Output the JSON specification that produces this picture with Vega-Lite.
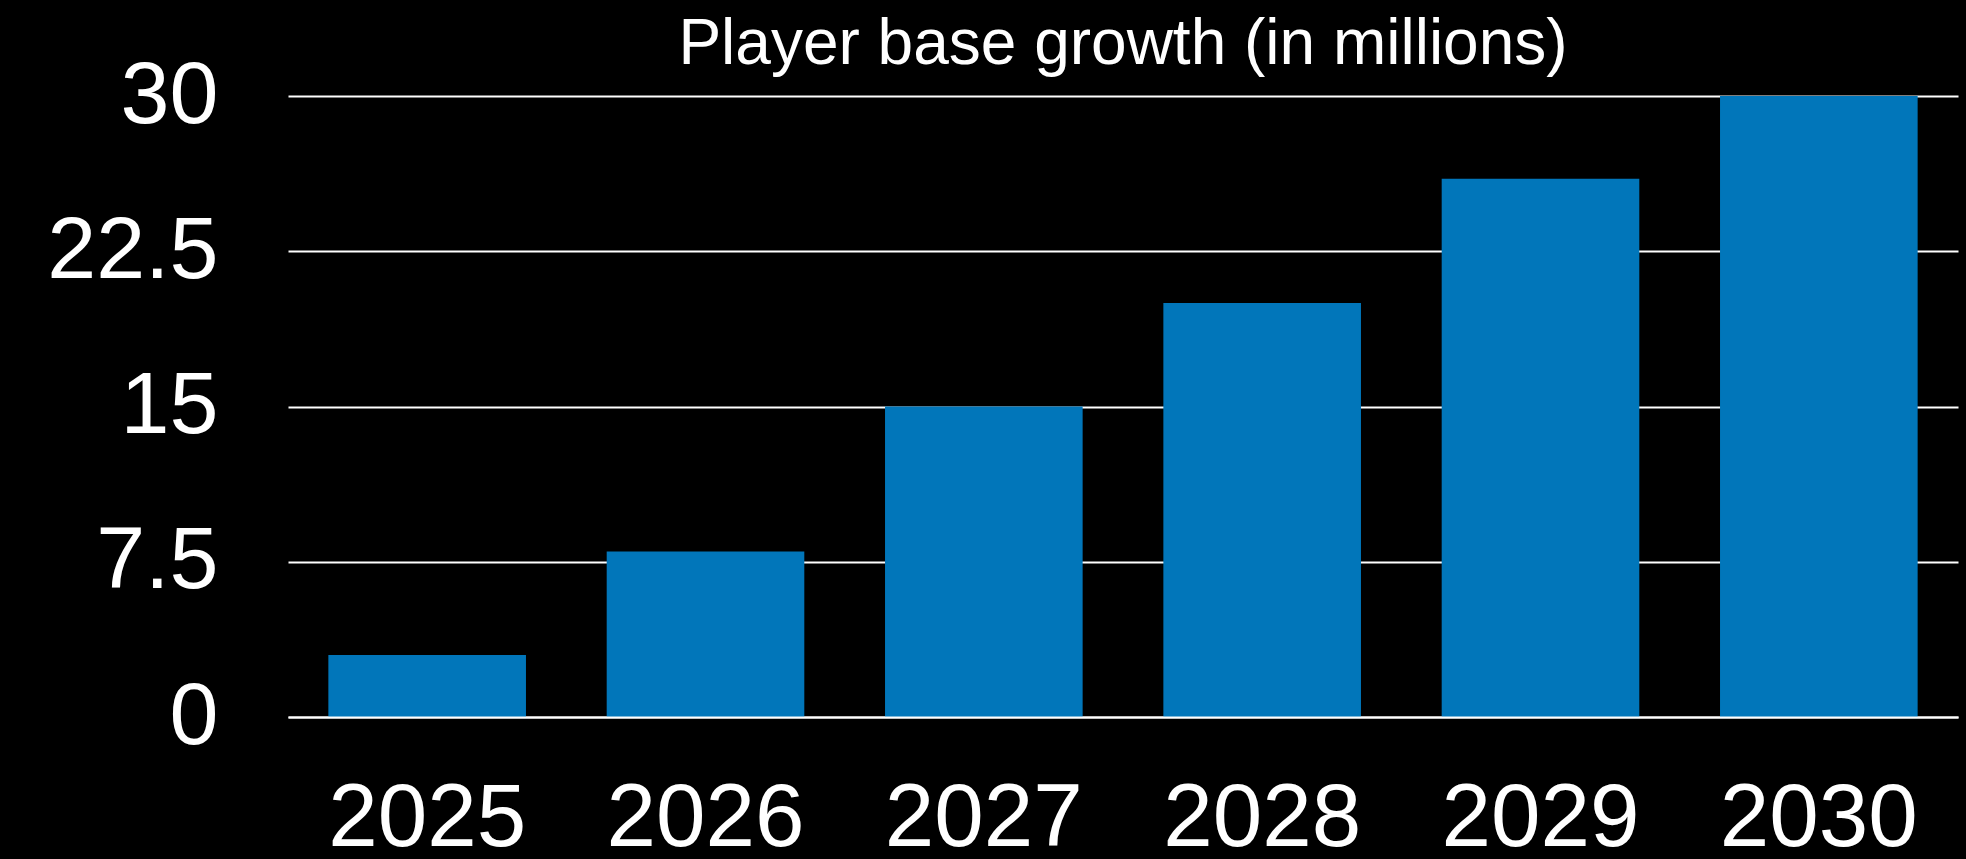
{
  "$schema": "https://vega.github.io/schema/vega-lite/v6.json",
  "autosize": "none",
  "width": 1670,
  "height": 621,
  "padding": {"left": 288, "top": 96, "right": 8, "bottom": 142},
  "background": "#000000",
  "config": {
    "view": {"stroke": null},
    "font": "Liberation Sans"
  },
  "title": {
    "text": "Player base growth (in millions)",
    "font": "Liberation Sans",
    "fontSize": 64,
    "fontWeight": "normal",
    "color": "#ffffff",
    "anchor": "middle",
    "frame": "group",
    "baseline": "alphabetic",
    "offset": -76
  },
  "data": {
    "values": [
      {"year": "2025", "players": 3},
      {"year": "2026", "players": 8},
      {"year": "2027", "players": 15},
      {"year": "2028", "players": 20},
      {"year": "2029", "players": 26},
      {"year": "2030", "players": 30}
    ]
  },
  "mark": {"type": "bar", "color": "#0176BA"},
  "encoding": {
    "x": {
      "field": "year",
      "type": "nominal",
      "sort": null,
      "scale": {"paddingInner": 0.29, "paddingOuter": 0.145},
      "axis": {
        "title": null,
        "labelAngle": 0,
        "labelFont": "Liberation Sans",
        "labelFontSize": 89,
        "labelColor": "#ffffff",
        "labelPadding": 58,
        "labelLimit": 0,
        "labelOverlap": false,
        "ticks": false,
        "domain": true,
        "domainColor": "#ffffff",
        "domainWidth": 2,
        "zindex": 1
      }
    },
    "y": {
      "field": "players",
      "type": "quantitative",
      "scale": {"domain": [0, 30], "nice": false},
      "axis": {
        "title": null,
        "values": [0, 7.5, 15, 22.5, 30],
        "format": ".1~f",
        "labelFont": "Liberation Sans",
        "labelFontSize": 88,
        "labelColor": "#ffffff",
        "labelPadding": 70,
        "labelLimit": 0,
        "ticks": false,
        "domain": false,
        "grid": true,
        "gridColor": "#ffffff",
        "gridWidth": 2,
        "gridOpacity": 1
      }
    }
  }
}
